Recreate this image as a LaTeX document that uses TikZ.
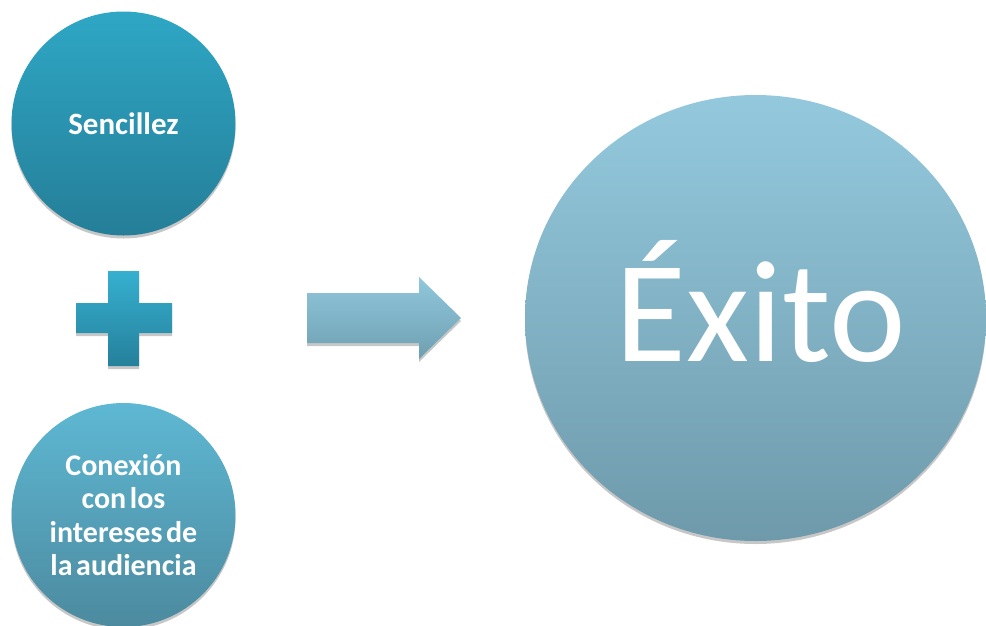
\documentclass[tikz,border=0pt]{standalone}
\usepackage{fontspec}
\setmainfont{Carlito}
\usetikzlibrary{positioning,shapes.geometric,shadows}
\definecolor{tealtop}{HTML}{2EA7C5}
\definecolor{tealbottom}{HTML}{257E98}
\definecolor{plustop}{HTML}{36B0D0}
\definecolor{plusbottom}{HTML}{25809B}
\definecolor{softtop}{HTML}{5EB8D3}
\definecolor{softbottom}{HTML}{4C8A9F}
\definecolor{arrowtop}{HTML}{91C8DC}
\definecolor{arrowbottom}{HTML}{6E9FB1}
\definecolor{bigtop}{HTML}{94C9DD}
\definecolor{bigbottom}{HTML}{6E9AAB}
\newcommand{\narrowwords}{\spaceskip=0.12em\relax}
\tikzset{
  softshadow/.style={drop shadow={shadow xshift=0pt, shadow yshift=-3pt, opacity=0.22, fill=black}},
  smallcircle/.style={circle, minimum size=224pt, inner sep=0pt, text=white, align=center, softshadow},
  topcircle/.style={smallcircle, top color=tealtop, bottom color=tealbottom, font=\bfseries\fontsize{31}{34}\selectfont},
  bottomcircle/.style={smallcircle, top color=softtop, bottom color=softbottom, font=\bfseries\fontsize{30}{33.5}\selectfont, execute at begin node=\narrowwords},
  bigcircle/.style={ellipse, minimum width=461pt, minimum height=446pt, inner sep=0pt, top color=bigtop, bottom color=bigbottom, softshadow},
  bigtext/.style={text=white, inner sep=0pt, font=\fontsize{145}{145}\selectfont},
  plusshape/.style={top color=plustop, bottom color=plusbottom, softshadow},
  arrowshape/.style={top color=arrowtop, bottom color=arrowbottom, softshadow}
}
\begin{document}
\begin{tikzpicture}[x=1pt, y=-1pt]
  \useasboundingbox (0,0) rectangle (986,625);
  \node[topcircle] (sencillez) at (123.5,123.5) {Sencillez};
  \node[bottomcircle] (conexion) at (123.5,515) {Conexión\\con los\\intereses de\\la audiencia};
  \shade[plusshape] (108,271)--(139,271)--(139,303)--(172,303)--(172,333)--(139,333)--(139,366)--(108,366)--(108,333)--(76,333)--(76,303)--(108,303)--cycle;
  \shade[arrowshape] (307,293)--(419,293)--(419,277)--(461,318)--(419,359)--(419,343)--(307,343)--cycle;
  \node[bigcircle] (exito) at (755.5,318) {};
  \node[bigtext, anchor=base] (exitolabel) at (761,361) {Éxito};
\end{tikzpicture}
\end{document}
